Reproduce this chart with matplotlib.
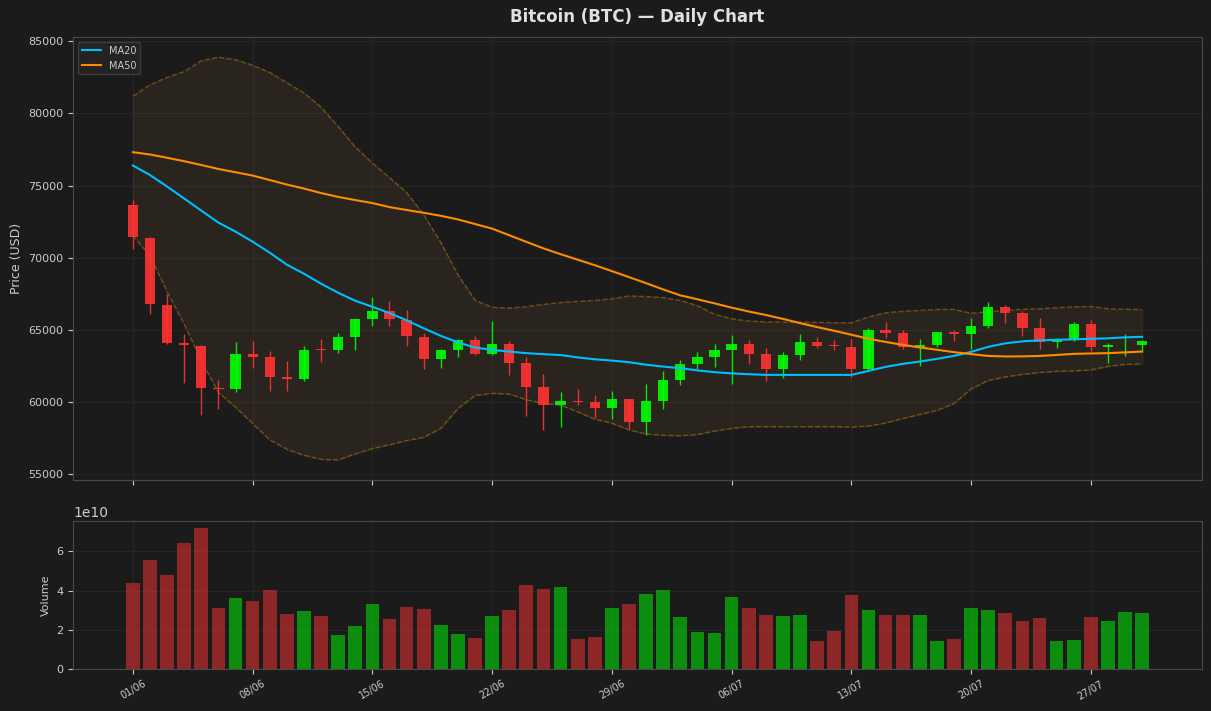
import numpy as np
import matplotlib
matplotlib.use('Agg')
import matplotlib.pyplot as plt

# daily BTC data, 01/06 .. 30/07
dates = ['%02d/06' % d for d in range(1, 31)] + ['%02d/07' % d for d in range(1, 31)]

opens = [73680, 71390, 66740, 64100, 63890, 61000, 60930, 63330, 63130, 61740,
         61560, 63640, 63630, 64530, 65760, 66320, 65690, 64510, 63010, 63630,
         64300, 63350, 64030, 62710, 61040, 59820, 60090, 60000, 59610, 60210,
         58630, 60070, 61530, 62640, 63130, 63610, 64030, 63330, 62310, 63260,
         64170, 63915, 63820, 62310, 65000, 64790, 63820, 63960, 64860, 64720,
         65280, 66600, 66180, 65140, 64170, 64350, 65420, 63820, 63950, 63960]
highs = [74030, 71420, 67500, 64720, 63960, 61530, 64170, 64240, 63540, 62850,
         63890, 64380, 64790, 65830, 67290, 67010, 66390, 64790, 63650, 64380,
         64580, 65620, 64240, 63130, 61940, 60690, 60900, 60490, 60760, 60230,
         61250, 62150, 62920, 63470, 64030, 64650, 64310, 63750, 63470, 64720,
         64510, 64310, 64380, 65140, 65560, 65000, 64380, 64870, 65000, 65830,
         66940, 66740, 66320, 65830, 64440, 65560, 65690, 64100, 64720, 64310]
lows = [70630, 66130, 64030, 61340, 59120, 59510, 60710, 62380, 60790, 60790,
        61460, 62800, 63420, 63610, 65280, 65280, 63890, 62250, 62320, 63150,
        63220, 63220, 61900, 59050, 58080, 58290, 59820, 58910, 58840, 58150,
        57730, 59540, 61200, 62290, 62450, 61270, 62660, 61480, 61690, 62940,
        63770, 63610, 61760, 62220, 64440, 63680, 62500, 63820, 64240, 63680,
        65140, 65490, 64580, 63680, 63750, 64240, 63540, 62710, 63190, 63540]
closes = [71410, 66760, 64120, 63920, 61000, 60930, 63330, 63150, 61760, 61560,
          63610, 63630, 64510, 65760, 66320, 65720, 64540, 63010, 63610, 64300,
          63350, 64030, 62730, 61070, 59820, 60070, 60030, 59610, 60210, 58630,
          60070, 61530, 62640, 63130, 63610, 64030, 63350, 62310, 63260, 64170,
          63910, 63905, 62310, 65000, 64790, 63820, 63960, 64860, 64720, 65280,
          66600, 66180, 65140, 64170, 64310, 65420, 63820, 63960, 63970, 64240]
volumes = [4.39, 5.56, 4.80, 6.43, 7.19, 3.11, 3.62, 3.47, 4.03, 2.81,
           2.96, 2.70, 1.73, 2.19, 3.32, 2.55, 3.16, 3.06, 2.24, 1.79,
           1.58, 2.70, 3.01, 4.29, 4.08, 4.18, 1.53, 1.63, 3.11, 3.32,
           3.83, 4.03, 2.65, 1.89, 1.84, 3.67, 3.11, 2.76, 2.70, 2.76,
           1.43, 1.94, 3.78, 3.01, 2.76, 2.76, 2.76, 1.43, 1.53, 3.11,
           3.01, 2.86, 2.45, 2.60, 1.43, 1.48, 2.65, 2.45, 2.91, 2.86]
volumes = [v * 1e10 for v in volumes]

ma20 = [76389, 75729, 74931, 74097, 73264, 72431, 71806, 71111, 70347, 69514,
        68889, 68194, 67569, 67014, 66597, 66160, 65660, 65104, 64583, 64132,
        63771, 63611, 63493, 63382, 63312, 63250, 63090, 62958, 62868, 62757,
        62583, 62451, 62340, 62188, 62063, 61979, 61924, 61875, 61875, 61875,
        61875, 61875, 61875, 62153, 62430, 62640, 62800, 62986, 63194, 63472,
        63819, 64062, 64201, 64271, 64306, 64340, 64375, 64410, 64479, 64514]
ma50 = [77313, 77153, 76924, 76688, 76424, 76146, 75924, 75694, 75382, 75069,
        74792, 74479, 74215, 73993, 73785, 73507, 73306, 73111, 72903, 72653,
        72333, 72014, 71556, 71097, 70646, 70243, 69861, 69479, 69069, 68653,
        68236, 67799, 67389, 67118, 66833, 66535, 66271, 66028, 65757, 65465,
        65188, 64931, 64660, 64382, 64160, 63958, 63778, 63618, 63451, 63319,
        63188, 63153, 63160, 63188, 63257, 63333, 63361, 63382, 63438, 63493]
bb_upper = [81201, 81979, 82500, 82903, 83646, 83903, 83715, 83340, 82840, 82125,
            81424, 80431, 79097, 77674, 76563, 75556, 74514, 72986, 71042, 68819,
            67049, 66563, 66507, 66604, 66764, 66896, 66972, 67042, 67153, 67347,
            67306, 67236, 67035, 66674, 66083, 65771, 65611, 65549, 65535, 65535,
            65521, 65493, 65486, 65903, 66181, 66285, 66354, 66410, 66424, 66146,
            66250, 66354, 66424, 66458, 66528, 66597, 66618, 66458, 66424, 66410]
bb_lower = [71528, 70125, 67639, 65396, 62847, 60660, 59639, 58507, 57375, 56722,
            56306, 56021, 55986, 56403, 56771, 57035, 57326, 57549, 58174, 59549,
            60451, 60597, 60549, 60146, 59910, 59785, 59313, 58806, 58528, 58063,
            57778, 57694, 57660, 57743, 57986, 58167, 58285, 58285, 58285, 58285,
            58285, 58285, 58264, 58333, 58542, 58854, 59132, 59410, 59896, 60903,
            61493, 61736, 61910, 62049, 62118, 62153, 62222, 62465, 62604, 62639]

BG = '#1b1b1b'
TXT = '#cccccc'
UP = '#00ff00'
DOWN = '#ff3333'

x = np.arange(len(dates))
o = np.array(opens)
c = np.array(closes)
up = c >= o
colors = [UP if u else DOWN for u in up]

fig = plt.figure(figsize=(12.11, 7.11), dpi=100, facecolor=BG)
ax = fig.add_axes([0.0603, 0.3249, 0.9323, 0.6231])
ax2 = fig.add_axes([0.0603, 0.0591, 0.9323, 0.2081], sharex=ax)

for a in (ax, ax2):
    a.set_facecolor(BG)
    for s in a.spines.values():
        s.set_color('#4a4a4a')
    a.tick_params(colors=TXT, labelsize=8)
    a.grid(True, color='#272727', linewidth=0.6)
    a.set_axisbelow(True)

# bollinger band
ax.fill_between(x, bb_lower, bb_upper, color='#d9904a', alpha=0.08)
ax.plot(x, bb_upper, '--', color='orange', alpha=0.33, lw=1)
ax.plot(x, bb_lower, '--', color='orange', alpha=0.33, lw=1)

# candles
ax.vlines(x, lows, highs, colors=colors, lw=1, alpha=0.9, zorder=3)
ax.bar(x, np.abs(c - o), bottom=np.minimum(o, c), width=0.6, color=colors,
       alpha=0.9, linewidth=0, zorder=3)

ax.plot(x, ma20, color='#00bfff', lw=1.5, label='MA20', zorder=4)
ax.plot(x, ma50, color='#ff8c00', lw=1.5, label='MA50', zorder=4)

ax.set_title('Bitcoin (BTC) \u2014 Daily Chart', color='#e0e0e0', fontsize=12,
             fontweight='bold', pad=11)
ax.set_ylabel('Price (USD)', color=TXT, fontsize=9)
leg = ax.legend(loc='upper left', fontsize=7, facecolor='#262626', edgecolor='#444444')
for t in leg.get_texts():
    t.set_color(TXT)
plt.setp(ax.get_xticklabels(), visible=False)

# volume
ax2.bar(x, volumes, width=0.8, color=colors, alpha=0.5, linewidth=0)
ax2.set_ylabel('Volume', color=TXT, fontsize=8)
ax2.yaxis.get_offset_text().set_color(TXT)
ax2.yaxis.get_offset_text().set_fontsize(10)

ax2.set_xlim(-3.5, 62.5)
ax2.set_xticks(x[::7])
ax2.set_xticklabels(dates[::7], rotation=30, fontsize=7, color=TXT)

plt.savefig('out.png', dpi=100, facecolor=BG)
plt.close()
